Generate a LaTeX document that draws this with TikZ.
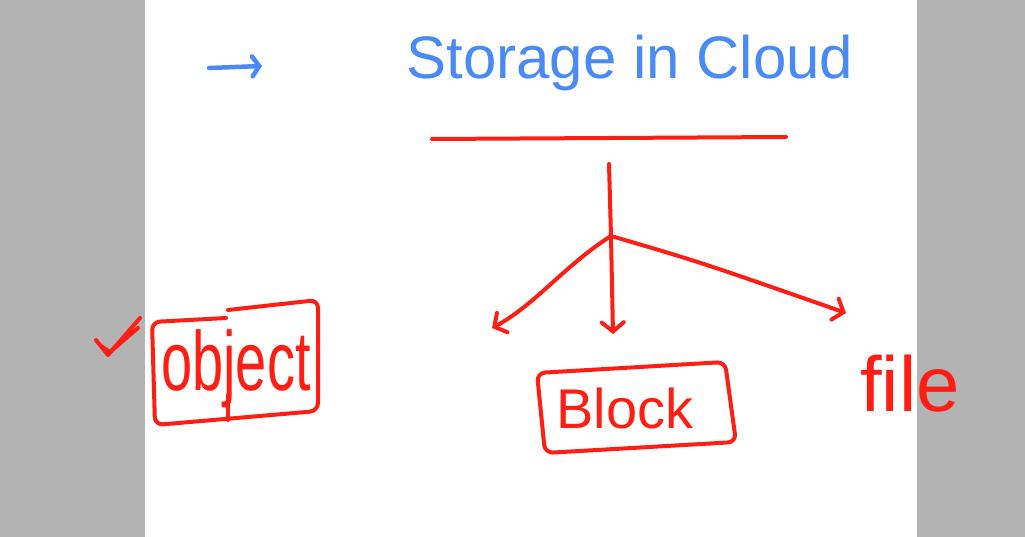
\documentclass[tikz,border=0pt]{standalone}
\usepackage{fontspec}
\setmainfont{Liberation Sans}
\usetikzlibrary{arrows.meta}
\definecolor{inkblue}{HTML}{4A8AF4}
\definecolor{inkred}{HTML}{FF1E14}
\definecolor{sidegray}{HTML}{B3B3B3}
\begin{document}
\begin{tikzpicture}[x=1pt,y=-1pt,
  redline/.style={draw=inkred,line width=4pt,line cap=round,line join=round},
  blueline/.style={draw=inkblue,line width=4.5pt,line cap=round,line join=round},
  hook/.style={-{Straight Barb[length=9pt,width=22pt,line cap=round]}},
  redtext/.style={text=inkred,inner sep=0pt,anchor=base},
  bluetext/.style={text=inkblue,inner sep=0pt,anchor=base}]
\useasboundingbox (0,0) rectangle (1025,537);
\fill[white] (0,0) rectangle (1025,537);
\fill[sidegray] (0,0) rectangle (145,537);
\fill[sidegray] (917,0) rectangle (1025,537);
% title
\node[bluetext,font=\fontsize{60}{60}\selectfont] (title) at (630,79) {Storage in Cloud};
\coordinate (bulletstart) at (209,68);
\coordinate (bulletend) at (262,66);
\draw[blueline,-{Straight Barb[length=7pt,width=20pt,line cap=round]}] (bulletstart) -- (bulletend);
% underline and stem
\coordinate (ulL) at (432,139);
\coordinate (ulR) at (786,137);
\draw[redline] (ulL) -- (ulR);
\coordinate (stemtop) at (609,164);
\coordinate (fork) at (611,236);
\draw[redline] (stemtop) -- (fork);
% targets
\node[redtext,font=\fontsize{56}{56}\selectfont] (block) at (625,428) {Block};
\node[redtext,font=\fontsize{78}{78}\selectfont] (file) at (910,411) {file};
\node[redtext] (object) at (236,390) {\scalebox{1}[1.5]{\fontsize{56}{56}\selectfont object}};
% arrows
\coordinate (leftend) at (492,328);
\coordinate (midend) at (613,334);
\coordinate (rightend) at (846,313);
\draw[redline,hook] (fork) .. controls (565,265) and (535,305) .. (leftend);
\draw[redline,hook] (fork) -- (midend);
\draw[redline,hook] (fork) .. controls (700,262) .. (rightend);
% boxes
\draw[redline,rounded corners=8pt] (226,318) -- (152,322) -- (155,425) -- (318,411) -- (318,300) -- (228,310);
\draw[redline] (228,395) -- (228,420);
\draw[redline,rounded corners=8pt] (537,373) -- (725,362) -- (736,442) -- (545,453) -- cycle;
% tick
\draw[redline] (96,340) -- (108,355) -- (140,318);
\draw[redline] (101,346) -- (110,352) -- (138,328);
\end{tikzpicture}
\end{document}
